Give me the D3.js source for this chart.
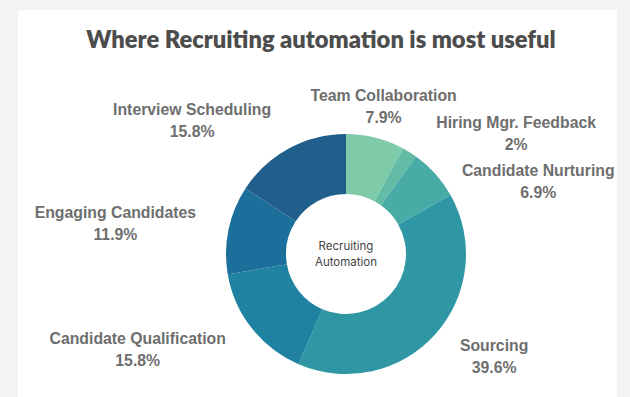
<!DOCTYPE html>
<html><head><meta charset="utf-8">
<script src="https://cdn.jsdelivr.net/npm/d3@7"></script>
<style>
html,body{margin:0;padding:0;background:#f3f3f3;}
svg{display:block;}
</style></head>
<body>
<svg id="chart" width="630" height="397"></svg>
<script>
const categories = ["Team Collaboration","Hiring Mgr. Feedback","Candidate Nurturing","Sourcing","Candidate Qualification","Engaging Candidates","Interview Scheduling"];
const values = [7.9, 2, 6.9, 39.6, 15.8, 11.9, 15.8];
const valueLabels = ["7.9%","2%","6.9%","39.6%","15.8%","11.9%","15.8%"];
const colors = ["#7fcaa9","#62bba5","#49aba6","#2e97a3","#1f82a0","#1c6f9a","#205e8c"];
const title = "Where Recruiting automation is most useful";
const centerLines = ["Recruiting","Automation"];
// layout-only nudges for label collisions
const labelNudgeX = [0, 9, 2, 0, 0, 0, -2];
const labelNudgeY = [0, 9, 29, 0, 0, 0, 0];

const svg = d3.select("#chart");
svg.append("rect").attr("x",18).attr("y",10).attr("width",599).attr("height",397).attr("fill","#ffffff");

svg.append("text").attr("x",321).attr("y",48).attr("text-anchor","middle")
  .attr("font-family","Lato, sans-serif").attr("font-weight",800).attr("font-size",23.7)
  .attr("fill","#4d4d4d").text(title);

const cx = 346, cy = 254, R = 120, r0 = 60, LR = 153;
const g = svg.append("g").attr("transform",`translate(${cx},${cy})`);
const pie = d3.pie().sort(null).value(d=>d)(values);
const arc = d3.arc().innerRadius(r0).outerRadius(R);
g.selectAll("path").data(pie).join("path").attr("d",arc).attr("fill",(d,i)=>colors[i]);

g.append("text").attr("text-anchor","middle").attr("font-family","Inter, 'Noto Sans', sans-serif")
  .attr("font-size",11.5).attr("fill","#444")
  .selectAll("tspan").data(centerLines).join("tspan").attr("x",0).attr("y",(d,i)=>-4+i*16).text(d=>d);

const lab = g.append("g").attr("font-family","'Liberation Sans', Arial, sans-serif").attr("font-weight","bold")
  .attr("font-size",15.8).attr("fill","#6e6e6e");
pie.forEach((d,i)=>{
  const a = (d.startAngle+d.endAngle)/2;
  const ax = Math.sin(a)*LR + labelNudgeX[i], ay = -Math.cos(a)*LR + labelNudgeY[i];
  const t = lab.append("text");
  const t1 = t.append("tspan").text(categories[i]);
  const t2 = t.append("tspan").text(valueLabels[i]);
  const w = Math.max(t1.node().getComputedTextLength(), t2.node().getComputedTextLength());
  let mid;
  const sx = Math.sin(a);
  if (Math.abs(sx) < 0.3) mid = ax;
  else if (sx > 0) mid = ax + w/2;
  else mid = ax - w/2;
  t.attr("text-anchor","middle");
  t1.attr("x",mid).attr("y",ay-5);
  t2.attr("x",mid).attr("y",ay+17);
});
</script>
</body></html>
